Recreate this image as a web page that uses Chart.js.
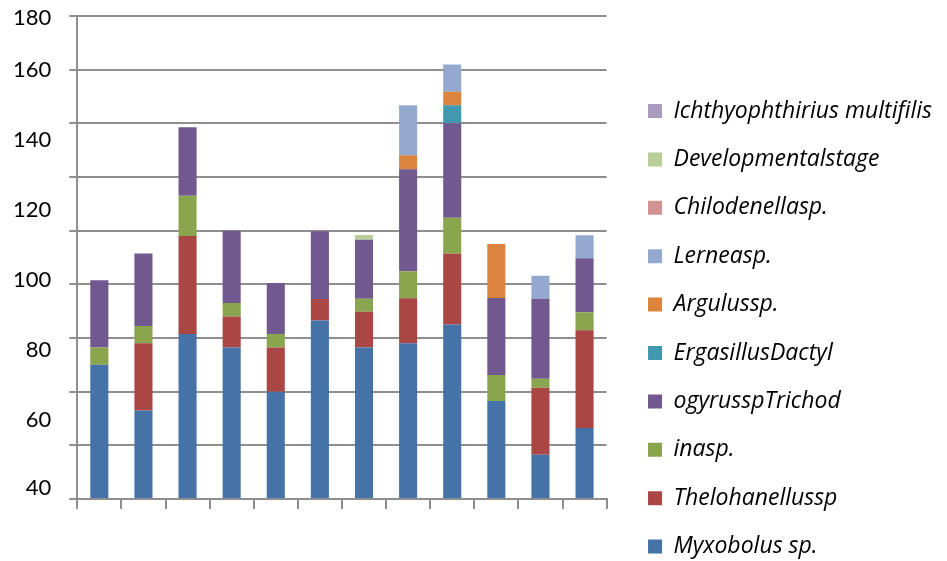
<!DOCTYPE html>
<html>
<head>
<meta charset="utf-8">
<script src="https://cdn.jsdelivr.net/npm/chart.js@4.4.0/dist/chart.umd.min.js"></script>
<style>
  body { margin: 0; background: #fff; }
</style>
</head>
<body>
<canvas id="chart" width="947" height="561"></canvas>
<script>
// sampling sites (no labels shown on the axis)
const categories = ['1', '2', '3', '4', '5', '6', '7', '8', '9', '10', '11', '12'];

// stacked parasite counts, bottom to top
const myxobolus     = [50, 33, 61.5, 56.5, 40, 66.5, 56.5, 58, 65, 36.5, 16.5, 26.5];
const thelohanellus = [0, 25, 36.5, 11.5, 16.5, 8, 13.3, 16.8, 26.4, 0, 25, 36.4];
const inasp         = [6.5, 6.5, 15, 5, 5, 0, 4.8, 10.1, 13.4, 9.7, 3.3, 6.7];
const ogyrusTrich   = [25, 27, 25.5, 27, 19, 25.3, 22, 38, 35.2, 28.7, 29.8, 20.1];
const ergasillus    = [0, 0, 0, 0, 0, 0, 0, 0, 6.7, 0, 0, 0];
const argulus       = [0, 0, 0, 0, 0, 0, 0, 5.2, 5.1, 20.1, 0, 0];
const lernea        = [0, 0, 0, 0, 0, 0, 0, 18.6, 10.1, 0, 8.6, 8.6];
const chilodenella  = [0, 0, 0, 0, 0, 0, 0, 0, 0, 0, 0, 0];
const developmental = [0, 0, 0, 0, 0, 0, 1.8, 0, 0, 0, 0, 0];
const ichthyo       = [0, 0, 0, 0, 0, 0, 0, 0, 0, 0, 0, 0];

// the printed axis labels do not sit on the gridlines in the original
const yTickLabels  = ['40', '60', '80', '100', '120', '140', '160', '180'];
const yTickAnchors = [4.1, 29.4, 55.5, 81.7, 107.6, 133.8, 159.9, 179.2];

const GRID = '#8f8f8f';

function ds(label, data, color) {
  return { label: label, data: data, backgroundColor: color, borderWidth: 0 };
}

new Chart(document.getElementById('chart'), {
  type: 'bar',
  data: {
    labels: categories,
    datasets: [
      ds('Myxobolus sp.', myxobolus, '#4572a7'),
      ds('Thelohanellussp', thelohanellus, '#aa4643'),
      ds('inasp.', inasp, '#89a54e'),
      ds('ogyrusspTrichod', ogyrusTrich, '#71588f'),
      ds('ErgasillusDactyl', ergasillus, '#4198af'),
      ds('Argulussp.', argulus, '#db843d'),
      ds('Lerneasp.', lernea, '#93a9cf'),
      ds('Chilodenellasp.', chilodenella, '#d19392'),
      ds('Developmentalstage', developmental, '#b9cd96'),
      ds('Ichthyophthirius multifilis', ichthyo, '#a99bbd')
    ]
  },
  options: {
    responsive: false,
    animation: false,
    devicePixelRatio: 1,
    // negative bottom padding lets the legend run below the plot like the original
    layout: { padding: { left: 13, top: 16, right: 5, bottom: -22.5 } },
    datasets: { bar: { barPercentage: 0.41, categoryPercentage: 1 } },
    plugins: {
      tooltip: { enabled: false },
      legend: {
        position: 'right',
        align: 'end',
        reverse: true,
        maxWidth: 420,
        labels: {
          boxWidth: 14,
          boxHeight: 14,
          padding: 25.4,
          color: '#000',
          font: { family: '"Open Sans", sans-serif', size: 23, style: 'italic' }
        }
      }
    },
    scales: {
      x: {
        stacked: true,
        ticks: { display: false },
        grid: { drawOnChartArea: false, drawTicks: true, tickLength: 10, color: GRID, lineWidth: 2 },
        border: { display: true, color: GRID, width: 2 },
        afterFit: s => { s.height = 84.5; }
      },
      y: {
        stacked: true,
        position: 'left',
        weight: 0,
        min: 0,
        max: 180,
        ticks: { display: false, stepSize: 20 },
        grid: { color: GRID, lineWidth: 2, tickLength: 8 },
        border: { display: true, color: GRID, width: 2 },
        afterFit: s => { s.width = 26; }
      },
      yl: {
        type: 'linear',
        position: 'left',
        weight: 1,
        min: 0,
        max: 180,
        grid: { display: false, drawTicks: false },
        border: { display: false },
        afterBuildTicks: axis => { axis.ticks = yTickAnchors.map(v => ({ value: v })); },
        ticks: {
          padding: 0,
          color: '#000',
          font: { family: 'Lato, sans-serif', size: 22 },
          callback: (value, index) => yTickLabels[index]
        }
      },
      gap: {
        type: 'linear',
        axis: 'y',
        position: 'right',
        grid: { display: false, drawTicks: false },
        border: { display: false },
        ticks: { display: false },
        afterFit: s => { s.width = 16; }
      }
    }
  }
});
</script>
</body>
</html>
